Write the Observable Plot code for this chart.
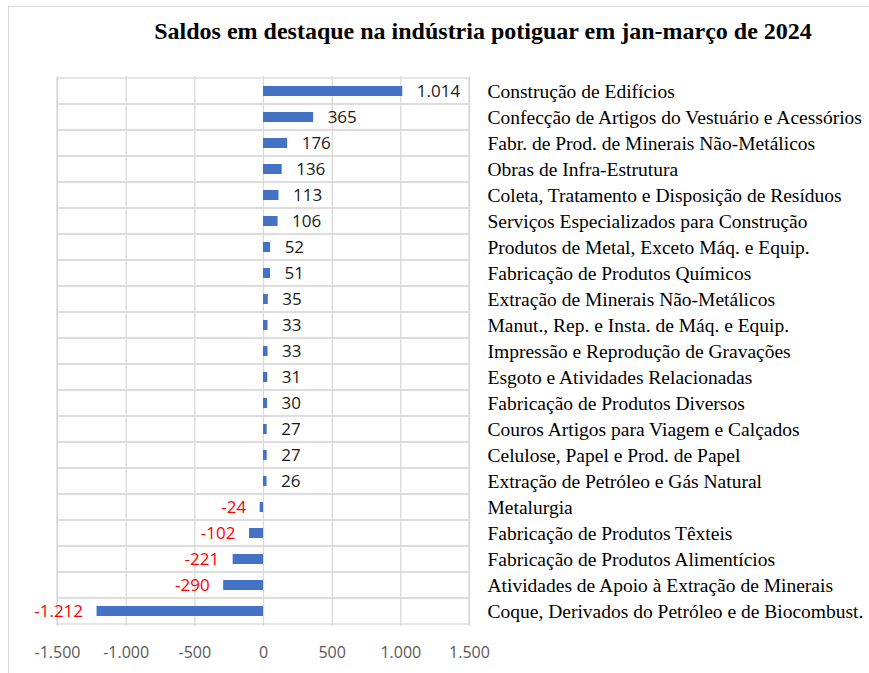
<!DOCTYPE html>
<html><head><meta charset="utf-8">
<script src="https://cdn.jsdelivr.net/npm/d3@7"></script>
<script src="https://cdn.jsdelivr.net/npm/@observablehq/plot@0.6"></script>
<style>
body{margin:0;background:#fff;}
#wrap{position:relative;width:869px;height:673px;overflow:hidden;background:#fff;}
#frame{position:absolute;left:8px;top:6px;width:900px;height:700px;border-left:1px solid #d9d9d9;border-top:1px solid #d9d9d9;pointer-events:none;}
#title{position:relative;height:60px;box-sizing:border-box;padding-top:18px;padding-left:97px;text-align:center;font-family:"Liberation Serif",serif;font-weight:bold;font-size:24px;line-height:27px;color:#000;white-space:nowrap;}
#chart svg{display:block;}
</style>
</head><body>
<div id="wrap">
<div id="frame"></div>
<div id="title">Saldos em destaque na indústria potiguar em jan-março de 2024</div>
<div id="chart"></div>
</div>
<script>
const categories = [
"Construção de Edifícios",
"Confecção de Artigos do Vestuário e Acessórios",
"Fabr. de Prod. de Minerais Não-Metálicos",
"Obras de Infra-Estrutura",
"Coleta, Tratamento e Disposição de Resíduos",
"Serviços Especializados para Construção",
"Produtos de Metal, Exceto Máq. e Equip.",
"Fabricação de Produtos Químicos",
"Extração de Minerais Não-Metálicos",
"Manut., Rep. e Insta. de Máq. e Equip.",
"Impressão e Reprodução de Gravações",
"Esgoto e Atividades Relacionadas",
"Fabricação de Produtos Diversos",
"Couros Artigos para Viagem e Calçados",
"Celulose, Papel e Prod. de Papel",
"Extração de Petróleo e Gás Natural",
"Metalurgia",
"Fabricação de Produtos Têxteis",
"Fabricação de Produtos Alimentícios",
"Atividades de Apoio à Extração de Minerais",
"Coque, Derivados do Petróleo e de Biocombust."
];
const values = [1014,365,176,136,113,106,52,51,35,33,33,31,30,27,27,26,-24,-102,-221,-290,-1212];
const xTicks = [-1500,-1000,-500,0,500,1000,1500];

const fmt = d3.formatLocale({decimal:",", thousands:".", grouping:[3], currency:["R$",""], minus:"-"}).format(",d");
const data = categories.map((c,i)=>({cat:c, value:values[i]}));
const xMin = xTicks[0], xMax = xTicks[xTicks.length-1];

const chart = Plot.plot({
  width: 869, height: 613,
  marginLeft: 57, marginRight: 400, marginTop: 16, marginBottom: 47,
  x: {domain: [xMin, xMax]},
  y: {domain: categories, padding: 0, axis: null},
  style: {fontFamily: "'Open Sans', sans-serif", fontSize: "15px", background: "transparent", overflow: "visible"},
  marks: [
    Plot.barX(data, {x1: xMin, x2: xMax, y: "cat", fill: "none", stroke: "#d9d9d9", strokeWidth: 1.3}),
    Plot.ruleX(xTicks, {stroke: "#d9d9d9", strokeWidth: 1.3}),
    Plot.barX(data, {x: "value", y: "cat", fill: "#4472C4", insetTop: 8, insetBottom: 8}),
    Plot.text(data.filter(d => d.value >= 0), {x: "value", y: "cat", text: d => fmt(d.value), textAnchor: "start", dx: 14, fill: "#1a1a1a", fontSize: 17}),
    Plot.text(data.filter(d => d.value < 0), {x: "value", y: "cat", text: d => fmt(d.value), textAnchor: "end", dx: -14, fill: "#ff0000", fontSize: 17}),
    Plot.text(data, {x: xMax, y: "cat", text: "cat", textAnchor: "start", dx: 18, fill: "#000", fontFamily: "'Liberation Serif', serif", fontSize: 19.5}),
    Plot.axisX({ticks: xTicks, tickFormat: fmt, tickSize: 0, tickPadding: 20, fill: "#595959", fontSize: 16, label: null})
  ]
});
document.getElementById("chart").appendChild(chart);
</script>
</body></html>
